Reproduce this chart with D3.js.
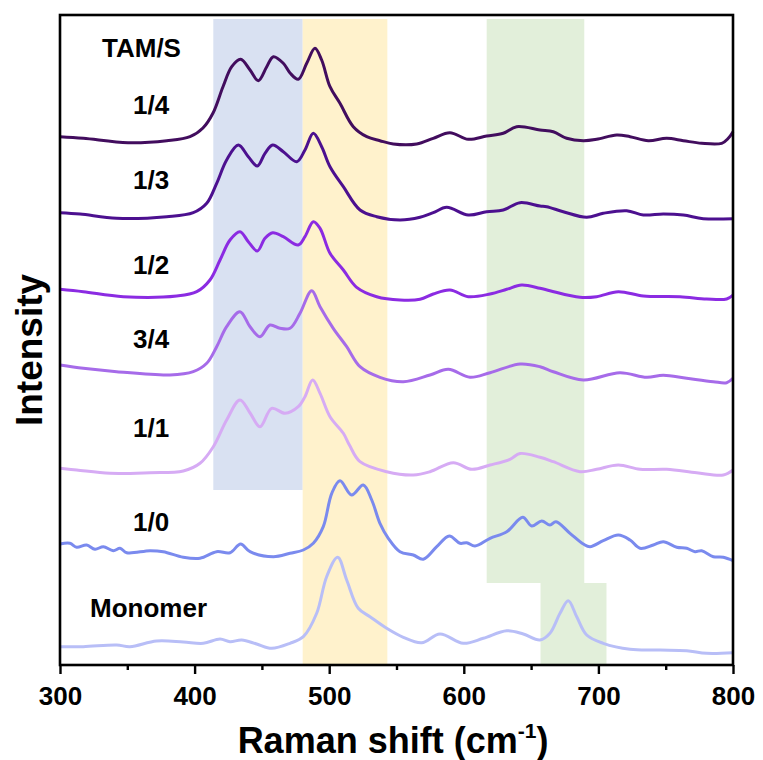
<!DOCTYPE html>
<html><head><meta charset="utf-8">
<script src="https://cdn.jsdelivr.net/npm/d3@7/dist/d3.min.js"></script>
<style>
body{margin:0;background:#fff}
text{font-family:"Liberation Sans",Arial,Helvetica,sans-serif;font-weight:bold;fill:#000}
</style>
</head><body>
<svg id="chart" width="763" height="760"></svg>
<script>
// ---- data (Raman shift in cm^-1, intensity in stacked a.u.) ----
const xTickValues = [300, 400, 500, 600, 700, 800];
const xMinorTicks = [350, 450, 550, 650, 750];
const seriesNames = ["1/4", "1/3", "1/2", "3/4", "1/1", "1/0", "Monomer"];
const seriesColors = ["#420d5e", "#4c108f", "#8b2be2", "#a66be9", "#d6abf4", "#7a8aee", "#b8bef7"];

const tam14 = [[300,528.3],[317.3,526.7],[350.5,522.3],[379.3,524.3],[396.6,528.3],[406.2,537],[413.7,552],[421.1,578.3],[427.6,598.3],[434.2,605.7],[441.2,595],[447.3,584.3],[453.6,598.3],[458.5,608.3],[465.9,601.7],[470.9,592],[477,585.7],[483.3,601.7],[489.4,616.7],[494.4,605],[500.6,578.3],[508,561.7],[517.9,538.3],[527.9,528.3],[537.7,524.3],[547.6,521],[565,521],[577.3,526.7],[589.7,532.3],[603.3,525.7],[617,529],[629.3,531.7],[639.3,538.3],[656.6,535],[666.5,533.3],[676.4,526.7],[688.8,524.3],[698.7,525.7],[713.6,530],[723.5,528.3],[737.1,524.3],[750.7,526.7],[763.1,524.3],[776.7,521.7],[791.6,521.7],[796.5,526.7],[800,533.3]];
const tam13 = [[300,452.3],[314.9,451],[342.1,446.7],[379.3,448.3],[399,452.3],[409,461.7],[416.4,481.7],[423.8,505],[432.5,520],[439.9,508.3],[446.6,499],[452.3,511.7],[458,520],[465.9,513.3],[475.9,503.3],[482,515],[488.2,531.7],[494.4,518.3],[500.6,498.3],[510.5,478.3],[522.9,455],[535.3,448.3],[552.6,445],[567.5,447.7],[577.3,452.3],[587.3,457.7],[603.3,450],[617,453.3],[629.3,455],[641.8,462.3],[656.6,459],[661.6,458.3],[673.9,453.3],[691.3,447.7],[703.6,451.7],[721,454.3],[733.4,450],[748.2,451],[763.1,450],[777.9,446.3],[800,446.3]];
const tam12 = [[300,375.7],[317.3,373.3],[347,368.3],[386.7,369],[401.6,373.3],[411.4,385],[418.9,405],[426.3,425],[433.7,433.3],[439.9,423.3],[446.6,414],[452.3,426.7],[458,432.3],[465.9,428.3],[477,420],[482,428.3],[488.2,443.3],[493.2,436.7],[500.6,411.7],[510.5,395],[520.4,377.7],[535.3,368.3],[552.6,365],[567.5,365.7],[577.3,371],[589.7,375],[603.3,368.3],[619.5,371],[631.9,375.7],[643,380],[656.6,376.7],[664,374.3],[686.3,367.7],[698.7,368.3],[714.8,373.3],[733.4,369],[760.6,368.3],[780.4,366],[795.3,366],[800,370]];
const tam34 = [[300,300],[317.3,296.7],[342.1,293.3],[381.7,290],[399,293.3],[409,301.7],[416.4,318.3],[423.8,338.3],[433.7,353.3],[441.2,338.3],[448.6,328.3],[456,340],[463.4,336.7],[470.9,336.7],[478.3,351.7],[487,374.3],[493.2,358.3],[503,336.7],[513,318.3],[522.9,298.3],[537.7,287.7],[555.1,283.3],[574.9,290],[588.5,295.7],[604.6,287.7],[619.5,292.3],[641.8,301],[656.6,298.3],[666.5,293.3],[688.8,285],[716,292.3],[735.9,287.7],[748.2,289.7],[765.6,286.7],[785.4,283.3],[795.3,282.3],[800,286.7]];
const tam11 = [[300,196.7],[312.4,195],[337.1,191.7],[366.9,192.3],[391.6,194],[404,201.7],[413.9,218.3],[423.8,245],[433.7,265],[441.2,252],[448.6,238.3],[457.3,256.7],[467.2,251.7],[477,258.3],[482,268.3],[487.7,285],[493.2,271.7],[500.6,248.3],[510.5,231.7],[515,220],[522.9,203.3],[542.7,193.3],[562.5,190],[574.9,193.3],[592.2,202.3],[605.9,195.7],[619.5,200],[634.3,205.7],[641.8,211.5],[656.6,207.7],[666.5,203.3],[686.3,193.3],[698.7,195.7],[714.8,200],[730.9,195.7],[750.7,195.7],[773,192.3],[792.8,190],[800,195]];
const tam10 = [[300,121],[307.4,121.7],[312.4,117.7],[319.8,120],[326,115.7],[332.2,118.3],[339.6,114.3],[344.6,116.7],[349.6,112.3],[366.9,114.3],[376.7,113.3],[391.6,107.7],[404,106.7],[416.4,113.3],[426.3,112.3],[434.2,121],[441.2,113.3],[458.5,108.3],[470.9,111.7],[480.8,115],[488.2,121.7],[495.6,138.3],[501.9,171.7],[508,184.3],[516.7,170],[525.3,180],[531.6,165],[537.7,141.7],[543.9,126.7],[552.6,113.3],[562.5,110],[569.9,105.7],[579.9,118.3],[589.2,129],[597.2,121.7],[602.2,122.3],[608.3,119],[619.5,126.7],[631.9,133.3],[643.8,147.7],[650.5,139],[657.9,144],[664,140],[668.5,143.3],[678.9,131.7],[688.8,121],[693.8,118.3],[703.6,124.3],[714.8,130],[723.5,125],[730.9,116.7],[740.8,120],[748.2,123.3],[758.2,117.7],[765.6,116.7],[771.8,113.3],[776.7,114.3],[785.4,108.3],[792.8,107.7],[800,104.3]];
const monomer = [[300,18.3],[317.3,18.3],[342.1,20],[352,18.3],[371.8,24],[391.6,23],[406.5,21.7],[418.9,26],[426.3,23.3],[435,25],[446.1,21],[457.3,16.7],[470.9,21.7],[480.8,28.3],[490.7,51.7],[498.1,88.3],[506.3,107.7],[513,85],[521.6,56.7],[530.3,48.3],[542.7,36.7],[555.1,27.7],[568.7,22.3],[582.3,31],[599.6,21.7],[614.5,26.7],[631.9,34.3],[644.2,31],[656.6,25],[664,31.7],[671.5,51.7],[677.6,64.3],[683.9,48.3],[691.3,30],[703.6,21.7],[723.5,15.7],[745.8,15],[765.6,14.3],[780.4,11.7],[800,12.3]];
const spectra = [tam14, tam13, tam12, tam34, tam11, tam10, monomer];

// shaded bands: [x0, x1, y0, y1] in data units
const bandBlue = [413.9, 480.3, 175, 646];
const bandOrange = [480.3, 543.2, 0, 646];
const bandGreen = [617, 689.5, 82, 646];
const bandGreen2 = [657, 706, 0, 82];
const bandColors = ["#d9e1f2", "#fff2cc", "#e2efda", "#e2efda"];

// ---- drawing ----
const svg = d3.select("#chart");
const mLeft = 60, mRight = 733, mTop = 15, mBottom = 665;
const x = d3.scaleLinear().domain([300, 800]).range([mLeft, mRight]);
const y = d3.scaleLinear().domain([0, 650]).range([mBottom, mTop]);

const bands = [bandBlue, bandOrange, bandGreen, bandGreen2];
svg.append("g").selectAll("rect").data(bands).join("rect")
  .attr("x", d => x(d[0])).attr("width", d => x(d[1]) - x(d[0]))
  .attr("y", d => y(d[3])).attr("height", d => y(d[2]) - y(d[3]))
  .attr("fill", (d, i) => bandColors[i]);

const line = d3.line().x(d => x(d[0])).y(d => y(d[1])).curve(d3.curveCatmullRom.alpha(0.5));
svg.append("g").selectAll("path").data(spectra).join("path")
  .attr("d", line).attr("fill", "none")
  .attr("stroke", (d, i) => seriesColors[i])
  .attr("stroke-width", 3).attr("stroke-linejoin", "round");

// frame
svg.append("rect").attr("x", mLeft).attr("y", mTop).attr("width", mRight - mLeft).attr("height", mBottom - mTop)
  .attr("fill", "none").attr("stroke", "#000").attr("stroke-width", 2.6);

// x axis
const ax = svg.append("g").attr("transform", `translate(0,${mBottom})`)
  .call(d3.axisBottom(x).tickValues(xTickValues).tickSize(9).tickPadding(13).tickFormat(d3.format("d")));
ax.select(".domain").remove();
ax.selectAll(".tick line").attr("stroke", "#000").attr("stroke-width", 2.4);
ax.selectAll(".tick text").style("font-size", "26px").attr("fill", "#000");
const axm = svg.append("g").attr("transform", `translate(0,${mBottom})`)
  .call(d3.axisBottom(x).tickValues(xMinorTicks).tickSize(5).tickFormat(""));
axm.select(".domain").remove();
axm.selectAll(".tick line").attr("stroke", "#000").attr("stroke-width", 2.4);

// titles
const xt = svg.append("text").attr("x", 393).attr("y", 753).attr("text-anchor", "middle").style("font-size", "36px");
xt.append("tspan").text("Raman shift (cm");
xt.append("tspan").text("-1").style("font-size", "21px").attr("dy", -15);
xt.append("tspan").text(")").attr("dy", 15);

svg.append("text").attr("transform", "translate(42,350) rotate(-90)").attr("text-anchor", "middle")
  .style("font-size", "37px").text("Intensity");

// series labels
svg.append("text").attr("x", 102).attr("y", 57).style("font-size", "26px").text("TAM/S");
const labelBase = [114, 188.5, 274, 348, 436.5, 530.5, 616.5];
seriesNames.forEach((n, i) => {
  svg.append("text").attr("x", n === "Monomer" ? 90 : 133).attr("y", labelBase[i])
    .style("font-size", "26px").text(n);
});
</script>
</body></html>
